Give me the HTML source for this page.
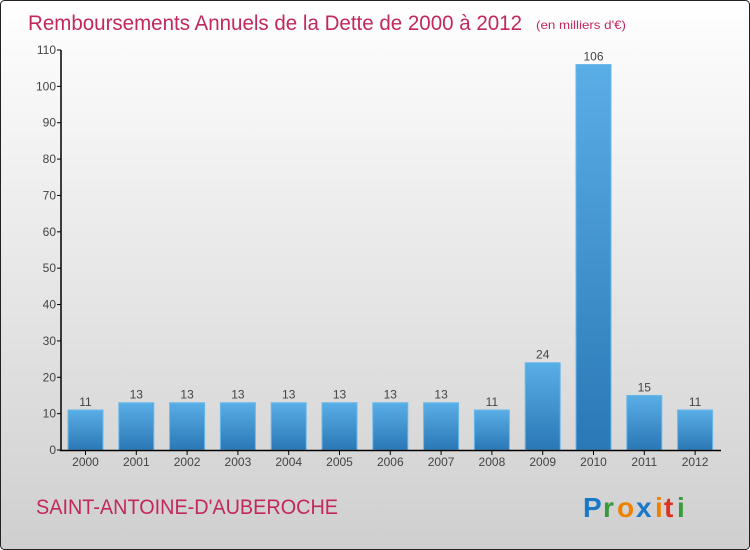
<!DOCTYPE html>
<html><head><meta charset="utf-8"><style>
body{margin:0;width:750px;height:550px;overflow:hidden;font-family:"Liberation Sans",sans-serif}
svg{display:block}
</style></head><body>
<svg width="750" height="550" xmlns="http://www.w3.org/2000/svg">
<defs>
<linearGradient id="bg" x1="0" y1="0" x2="0" y2="1"><stop offset="0" stop-color="#ffffff"/><stop offset="1" stop-color="#cfcfcf"/></linearGradient>
<linearGradient id="bar" x1="0" y1="0" x2="0" y2="1"><stop offset="0" stop-color="#5aaee6"/><stop offset="1" stop-color="#2a78b6"/></linearGradient>
</defs>
<rect x="0.5" y="0.5" width="749" height="549" rx="4" fill="url(#bg)" stroke="#222"/>
<text x="28" y="30" font-size="21" fill="#c2285e" textLength="494" lengthAdjust="spacingAndGlyphs">Remboursements Annuels de la Dette de 2000 à 2012</text>
<text x="536" y="29" font-size="12" fill="#c2285e" textLength="90" lengthAdjust="spacingAndGlyphs">(en milliers d'€)</text>
<g id="ticks"></g>
<g id="bars"></g>
<line x1="61" y1="50" x2="61" y2="451" stroke="#000" stroke-width="1.5"/>
<line x1="60" y1="450.5" x2="721" y2="450.5" stroke="#000" stroke-width="1.5"/>
<text x="36" y="514" font-size="21" fill="#c2285e" textLength="302" lengthAdjust="spacingAndGlyphs">SAINT-ANTOINE-D'AUBEROCHE</text>
<g font-size="28" font-weight="bold">
<text x="583" y="517" fill="#1a78c8">P</text><text x="603" y="517" fill="#3a9a3a">r</text><text x="617" y="517" fill="#f08000">o</text><text x="636" y="517" fill="#1a78c8">x</text><text x="655" y="517" fill="#f08000">i</text><text x="664" y="517" fill="#e03020">t</text><text x="677" y="517" fill="#3a9a3a">i</text>
</g>
</svg>
<script>
const years=["2000","2001","2002","2003","2004","2005","2006","2007","2008","2009","2010","2011","2012"];
const values=[11,13,13,13,13,13,13,13,11,24,106,15,11];
const yTicks=[0,10,20,30,40,50,60,70,80,90,100,110];
const ns="http://www.w3.org/2000/svg";
function y(v){return 450-v*400/110;}
function x(i){return 85.5+i*50.8;}
const tg=document.getElementById('ticks');
yTicks.forEach(t=>{
 const l=document.createElementNS(ns,'line');
 l.setAttribute('x1',57);l.setAttribute('x2',61);l.setAttribute('y1',y(t));l.setAttribute('y2',y(t));l.setAttribute('stroke','#000');
 
 
 tg.appendChild(l);
 const tx=document.createElementNS(ns,'text');
 tx.setAttribute('x',56);tx.setAttribute('y',y(t)+4);tx.setAttribute('text-anchor','end');tx.setAttribute('font-size','12');tx.setAttribute('fill','#444');
 tx.textContent=t;
 
 
 tg.appendChild(tx);
});
const bg=document.getElementById('bars');
values.forEach((v,i)=>{
 const r=document.createElementNS(ns,'rect');
 r.setAttribute('x',x(i)-17.5);r.setAttribute('y',y(v));r.setAttribute('width',35);r.setAttribute('height',450-y(v));
 r.setAttribute('fill','url(#bar)');r.setAttribute('stroke','#6ab8ea');r.setAttribute('stroke-width','1');
 
 
 bg.appendChild(r);
 const vt=document.createElementNS(ns,'text');
 vt.setAttribute('x',x(i));vt.setAttribute('y',y(v)-4);vt.setAttribute('text-anchor','middle');vt.setAttribute('font-size','12');vt.setAttribute('fill','#444');
 vt.textContent=v;
 
 
 bg.appendChild(vt);
 const tk=document.createElementNS(ns,'line');
 tk.setAttribute('x1',x(i));tk.setAttribute('x2',x(i));tk.setAttribute('y1',450);tk.setAttribute('y2',455);tk.setAttribute('stroke','#000');
 
 
 bg.appendChild(tk);
 const xt=document.createElementNS(ns,'text');
 xt.setAttribute('x',x(i));xt.setAttribute('y',466);xt.setAttribute('text-anchor','middle');xt.setAttribute('font-size','12');xt.setAttribute('fill','#444');
 xt.textContent=years[i];
 
 
 bg.appendChild(xt);
});
</script>
</body></html>
